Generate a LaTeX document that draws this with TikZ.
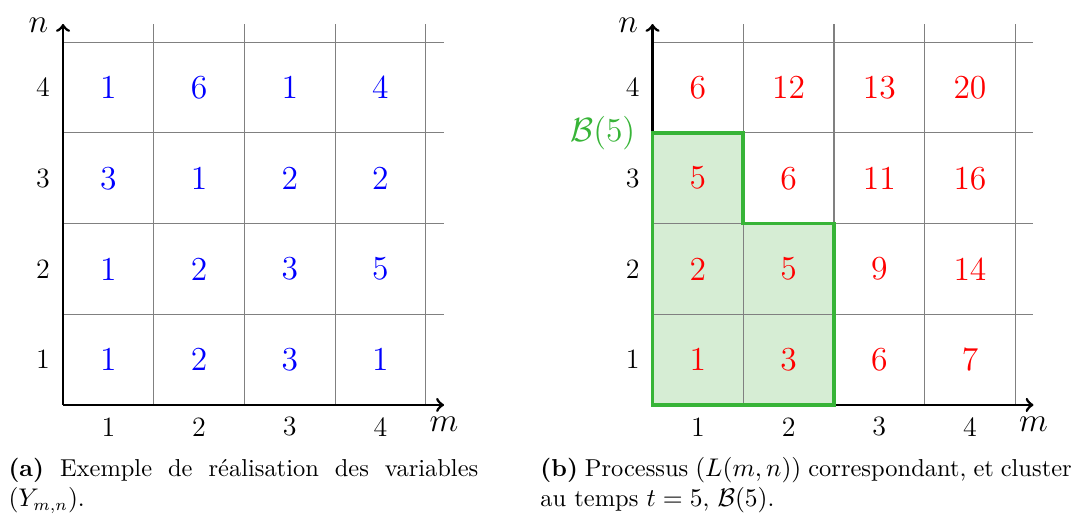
\documentclass[tikz,border=0pt]{standalone}
\usepackage{amssymb}
\usepackage{amsfonts}
\usepackage{amsmath}
\usepackage{xcolor}
\usepackage{tikz}
\usetikzlibrary{calc}
\definecolor{clgreen}{RGB}{55,180,55}
\definecolor{clfill}{RGB}{214,237,212}

\begin{document}
\begin{tikzpicture}[x=1.368cm, y=1.368cm,
  yval/.style={text=blue, font=\Large},
  lval/.style={text=red, font=\Large},
  ticklab/.style={font=\large},
  axlab/.style={font=\Large},
  axis/.style={line width=1.2pt, ->},
  cell/.style={gray, line width=0.5pt, step={(1,1)}},
  capt/.style={anchor=base west, inner sep=0pt, align=justify, font=\fontsize{10.5}{12.8}\selectfont}]
\useasboundingbox (-0.695,-1.202) rectangle (11.158,4.465);
% left: the variables Y
\draw[cell] (0,0) grid (4.2,4.2);
\coordinate (oa) at (0,0);
\coordinate (xa) at (4.2,0);
\coordinate (ya) at (0,4.2);
\draw[axis] (oa) -- (xa);
\draw[axis] (oa) -- (ya);
\node[axlab] (ma) at (4.2,-0.21) {$m$};
\node[axlab] (na) at (-0.27,4.19) {$n$};
\node[ticklab] (ca1) at (0.5,-0.24) {1};
\node[ticklab] (ca2) at (1.5,-0.24) {2};
\node[ticklab] (ca3) at (2.5,-0.24) {3};
\node[ticklab] (ca4) at (3.5,-0.24) {4};
\node[ticklab] (ra1) at (-0.22,0.5) {1};
\node[ticklab] (ra2) at (-0.22,1.5) {2};
\node[ticklab] (ra3) at (-0.22,2.5) {3};
\node[ticklab] (ra4) at (-0.22,3.5) {4};
\node[yval] (y11) at (0.5,0.5) {1};
\node[yval] (y21) at (1.5,0.5) {2};
\node[yval] (y31) at (2.5,0.5) {3};
\node[yval] (y41) at (3.5,0.5) {1};
\node[yval] (y12) at (0.5,1.5) {1};
\node[yval] (y22) at (1.5,1.5) {2};
\node[yval] (y32) at (2.5,1.5) {3};
\node[yval] (y42) at (3.5,1.5) {5};
\node[yval] (y13) at (0.5,2.5) {3};
\node[yval] (y23) at (1.5,2.5) {1};
\node[yval] (y33) at (2.5,2.5) {2};
\node[yval] (y43) at (3.5,2.5) {2};
\node[yval] (y14) at (0.5,3.5) {1};
\node[yval] (y24) at (1.5,3.5) {6};
\node[yval] (y34) at (2.5,3.5) {1};
\node[yval] (y44) at (3.5,3.5) {4};
% right: the process L and the cluster
\begin{scope}[shift={(6.5,0)}]
\fill[clfill] (0,0) -- (2,0) -- (2,2) -- (1,2) -- (1,3) -- (0,3) -- cycle;
\draw[cell] (0,0) grid (4.2,4.2);
\coordinate (ob) at (0,0);
\coordinate (xb) at (4.2,0);
\coordinate (yb) at (0,4.2);
\draw[axis] (ob) -- (xb);
\draw[axis] (ob) -- (yb);
\draw[clgreen, line width=1.6pt] (0,0) -- (2,0) -- (2,2) -- (1,2) -- (1,3) -- (0,3) -- cycle;
\node[text=clgreen, font=\Large, anchor=east] (bc) at (-0.1,3) {$\mathcal{B}(5)$};
\node[axlab] (mb) at (4.2,-0.21) {$m$};
\node[axlab] (nb) at (-0.27,4.19) {$n$};
\node[ticklab] (cb1) at (0.5,-0.24) {1};
\node[ticklab] (cb2) at (1.5,-0.24) {2};
\node[ticklab] (cb3) at (2.5,-0.24) {3};
\node[ticklab] (cb4) at (3.5,-0.24) {4};
\node[ticklab] (rb1) at (-0.22,0.5) {1};
\node[ticklab] (rb2) at (-0.22,1.5) {2};
\node[ticklab] (rb3) at (-0.22,2.5) {3};
\node[ticklab] (rb4) at (-0.22,3.5) {4};
\node[lval] (l11) at (0.5,0.5) {1};
\node[lval] (l21) at (1.5,0.5) {3};
\node[lval] (l31) at (2.5,0.5) {6};
\node[lval] (l41) at (3.5,0.5) {7};
\node[lval] (l12) at (0.5,1.5) {2};
\node[lval] (l22) at (1.5,1.5) {5};
\node[lval] (l32) at (2.5,1.5) {9};
\node[lval] (l42) at (3.5,1.5) {14};
\node[lval] (l13) at (0.5,2.5) {5};
\node[lval] (l23) at (1.5,2.5) {6};
\node[lval] (l33) at (2.5,2.5) {11};
\node[lval] (l43) at (3.5,2.5) {16};
\node[lval] (l14) at (0.5,3.5) {6};
\node[lval] (l24) at (1.5,3.5) {12};
\node[lval] (l34) at (2.5,3.5) {13};
\node[lval] (l44) at (3.5,3.5) {20};
\end{scope}
% captions
\node[capt, text width=201.6pt] (capa) at (-0.606,-0.79) {\textbf{(a)} Exemple de réalisation des variables\linebreak $(Y_{m,n})$.};
\node[capt, text width=228pt] (capb) at (5.259,-0.79) {\textbf{(b)} Processus $(L(m,n))$ correspondant, et cluster\linebreak au temps $t=5$, $\mathcal{B}(5)$.};
\end{tikzpicture}
\end{document}
